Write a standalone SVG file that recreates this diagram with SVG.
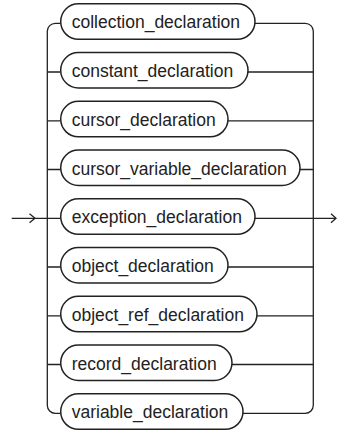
<svg xmlns="http://www.w3.org/2000/svg" width="337" height="435" viewBox="0 0 337 435">
<style>
.pill{fill:#fff;stroke:#222;stroke-width:1.5}
.lbl{font-family:"Liberation Sans",Arial,sans-serif;font-size:17.5px;fill:#222}
.ln{fill:none;stroke:#222;stroke-width:1.3}
</style>
<rect width="337" height="435" fill="#fff"/>
<g id="connectors">
<path class="ln" d="M11.7,218.3 H60.7"/>
<polyline class="ln" points="29.5,213.8 35,218.3 29.5,222.8"/>
<path class="ln" d="M60.7,23.3 H55.3 A8,8 0 0 0 47.3,31.3 V405.3 A8,8 0 0 0 55.3,413.3 H60.7"/>
<path class="ln" d="M47.3,72 H60.7 M47.3,120.8 H60.7 M47.3,169.5 H60.7 M47.3,267 H60.7 M47.3,315.8 H60.7 M47.3,364.5 H60.7"/>
<path class="ln" d="M255,23.3 H305.3 A8,8 0 0 1 313.3,31.3 V405.3 A8,8 0 0 1 305.3,413.3 H243"/>
<path class="ln" d="M248,72 H313.3 M228,120.8 H313.3 M300,169.5 H313.3 M228,267 H313.3 M257,315.8 H313.3 M232,364.5 H313.3"/>
<path class="ln" d="M255,218.3 H336"/>
<polyline class="ln" points="331,213.8 336,218.3 331,222.8"/>
</g>
<g id="collection_declaration"><rect class="pill" x="60.7" y="3.8" width="194.3" height="35.5" rx="17.75"/><text class="lbl" x="71.7" y="28.3">collection_declaration</text></g>
<g id="constant_declaration"><rect class="pill" x="60.7" y="52.5" width="187.3" height="35.5" rx="17.75"/><text class="lbl" x="71.7" y="77">constant_declaration</text></g>
<g id="cursor_declaration"><rect class="pill" x="60.7" y="101.3" width="167.3" height="35.5" rx="17.75"/><text class="lbl" x="71.7" y="125.8">cursor_declaration</text></g>
<g id="cursor_variable_declaration"><rect class="pill" x="60.7" y="150" width="239.3" height="35.5" rx="17.75"/><text class="lbl" x="71.7" y="174.5">cursor_variable_declaration</text></g>
<g id="exception_declaration"><rect class="pill" x="60.7" y="198.8" width="194.3" height="35.5" rx="17.75"/><text class="lbl" x="71.7" y="223.3">exception_declaration</text></g>
<g id="object_declaration"><rect class="pill" x="60.7" y="247.5" width="167.3" height="35.5" rx="17.75"/><text class="lbl" x="71.7" y="272">object_declaration</text></g>
<g id="object_ref_declaration"><rect class="pill" x="60.7" y="296.3" width="196.3" height="35.5" rx="17.75"/><text class="lbl" x="71.7" y="320.8">object_ref_declaration</text></g>
<g id="record_declaration"><rect class="pill" x="60.7" y="345" width="171.3" height="35.5" rx="17.75"/><text class="lbl" x="71.7" y="369.5">record_declaration</text></g>
<g id="variable_declaration"><rect class="pill" x="60.7" y="393.8" width="182.3" height="35.5" rx="17.75"/><text class="lbl" x="71.7" y="418.3">variable_declaration</text></g>
</svg>
